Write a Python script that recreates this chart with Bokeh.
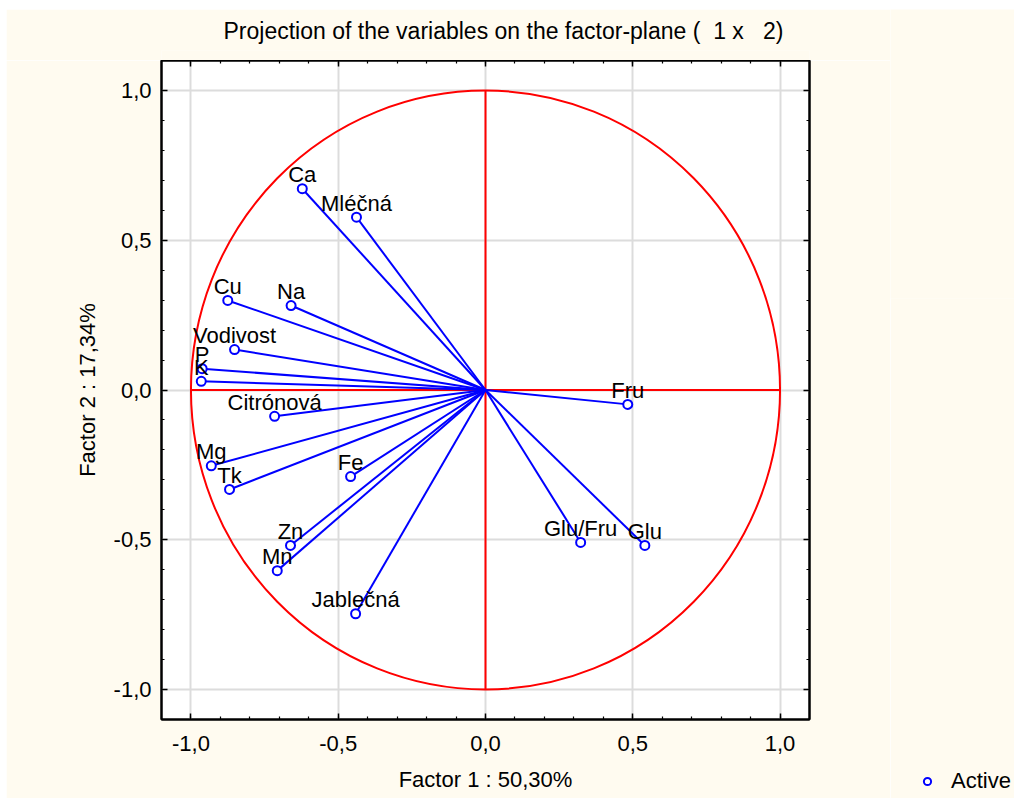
from bokeh.plotting import figure
from bokeh.models import (ColumnDataSource, Range1d, LinearAxis, FixedTicker,
                          CustomJSTickFormatter, Legend, LegendItem, Spacer, Grid)
from bokeh.layouts import column, row
from bokeh.core.properties import value
from bokeh.embed import file_html
from bokeh.resources import INLINE

# ---- data ----
variables = ["Ca", "Mléčná", "Cu", "Na", "Vodivost", "P", "K", "Citrónová", "Mg", "Tk",
             "Fe", "Zn", "Mn", "Jablečná", "Fru", "Glu/Fru", "Glu"]
factor1 = [-0.622, -0.438, -0.875, -0.660, -0.852, -0.962, -0.965, -0.716, -0.931, -0.869,
           -0.458, -0.662, -0.707, -0.441, 0.483, 0.323, 0.541]
factor2 = [0.672, 0.577, 0.299, 0.282, 0.135, 0.071, 0.029, -0.088, -0.253, -0.332,
           -0.289, -0.519, -0.603, -0.747, -0.048, -0.509, -0.519]
origin_x = [0.0] * len(variables)
origin_y = [0.0] * len(variables)

major_ticks = [-1.0, -0.5, 0.0, 0.5, 1.0]
minor_ticks = [-1.0, -0.9, -0.8, -0.7, -0.6, -0.5, -0.4, -0.3, -0.2, -0.1, 0.0,
               0.1, 0.2, 0.3, 0.4, 0.5, 0.6, 0.7, 0.8, 0.9, 1.0]
unit_radius = 1.0

title_text = "Projection of the variables on the factor-plane (\u00a0 1 x \u00a0 2)"
x_label = "Factor 1 : 50,30%"
y_label = "Factor 2 : 17,34%"
legend_label = "Active"

FONT = "Liberation Sans"
CREAM = "#FFFBF0"

# ---- title strip ----
tf = figure(width=884, height=51, output_backend="svg", toolbar_location=None,
            x_axis_location=None, y_axis_location=None,
            min_border_left=155, min_border_right=81, min_border_top=0, min_border_bottom=0,
            background_fill_color=CREAM, border_fill_color=CREAM, outline_line_color=None)
tf.xgrid.visible = False
tf.ygrid.visible = False
tf.title.text = title_text
tf.title.align = "left"
tf.title.offset = 62
tf.title.text_font = FONT
tf.title.text_font_size = "23px"
tf.title.text_font_style = "normal"
tf.title.text_color = "black"
tf.title.standoff = 13

# ---- main plot ----
p = figure(frame_width=648, frame_height=659,
           x_range=Range1d(-1.1, 1.1), y_range=Range1d(-1.1, 1.1),
           output_backend="svg", toolbar_location=None,
           x_axis_location=None, y_axis_location=None,
           min_border_left=155, min_border_right=81,
           min_border_top=0, min_border_bottom=79,
           background_fill_color="white", border_fill_color=CREAM,
           outline_line_color="black", outline_line_width=2)
p.title.text = ""

fmt = CustomJSTickFormatter(code="return tick.toFixed(1).replace('.', ',');")
empty_fmt = CustomJSTickFormatter(code="return '';")


def make_axis(formatter, label=None, standoff=10, label_standoff=10):
    ax = LinearAxis(ticker=FixedTicker(ticks=major_ticks, minor_ticks=minor_ticks),
                    formatter=formatter)
    ax.axis_line_width = 2
    ax.axis_line_color = "black"
    ax.major_tick_in = 6
    ax.major_tick_out = 0
    ax.minor_tick_in = 3
    ax.minor_tick_out = 0
    ax.major_tick_line_width = 1.5
    ax.minor_tick_line_width = 1.2
    ax.major_label_text_font = FONT
    ax.major_label_text_font_size = "22px"
    ax.major_label_text_color = "black"
    ax.major_label_standoff = standoff
    if label:
        ax.axis_label = label
        ax.axis_label_text_font = FONT
        ax.axis_label_text_font_size = "22px"
        ax.axis_label_text_font_style = "normal"
        ax.axis_label_text_color = "black"
        ax.axis_label_standoff = label_standoff
    return ax


p.add_layout(make_axis(fmt, x_label, standoff=16, label_standoff=13), "below")
p.add_layout(make_axis(fmt, y_label, standoff=10, label_standoff=11), "left")
p.add_layout(make_axis(empty_fmt, standoff=0), "above")
p.add_layout(make_axis(empty_fmt, standoff=0), "right")

for dim in (0, 1):
    g = Grid(dimension=dim, ticker=FixedTicker(ticks=major_ticks))
    g.grid_line_color = "#DCDCDC"
    g.grid_line_width = 2
    p.add_layout(g)

# unit circle and red cross
p.ellipse(x=[0.0], y=[0.0], width=[2 * unit_radius], height=[2 * unit_radius],
          fill_color=None, line_color="red", line_width=2)
p.segment(x0=[-unit_radius, 0.0], y0=[0.0, -unit_radius],
          x1=[unit_radius, 0.0], y1=[0.0, unit_radius],
          line_color="red", line_width=2)

src = ColumnDataSource(dict(x=factor1, y=factor2, x0=origin_x, y0=origin_y, name=variables))

p.segment(x0="x0", y0="y0", x1="x", y1="y", source=src, line_color="#0000FF", line_width=2)
p.scatter(x="x", y="y", source=src, marker="circle", size=9,
          fill_color="white", line_color="#0000FF", line_width=2)
p.text(x="x", y="y", text="name", source=src, text_align="center",
       text_baseline="alphabetic", y_offset=-14,
       text_font=value(FONT), text_font_size="22px", text_color="black")

# ---- legend panel (bottom-right corner, outside the plot frame) ----
lg = figure(width=124, height=789, x_range=Range1d(2, 3), y_range=Range1d(2, 3),
            output_backend="svg", toolbar_location=None,
            x_axis_location=None, y_axis_location=None,
            min_border=0, background_fill_color=CREAM, border_fill_color=CREAM,
            outline_line_color=None)
lg.xgrid.visible = False
lg.ygrid.visible = False
proxy = lg.scatter(x="x", y="y", source=src, marker="circle", size=9,
                   fill_color="white", line_color="#0000FF", line_width=2)
legend = Legend(items=[LegendItem(label=legend_label, renderers=[proxy])],
                location=(28, 4))
legend.border_line_color = None
legend.background_fill_alpha = 0
legend.padding = 0
legend.margin = 0
legend.spacing = 0
legend.glyph_width = 18
legend.glyph_height = 18
legend.label_standoff = 15
legend.label_text_font = FONT
legend.label_text_font_size = "22px"
legend.label_text_color = "black"
lg.add_layout(legend, "below")

layout = column(Spacer(height=9), row(Spacer(width=6), column(tf, p), lg))
open("out.html", "w").write(file_html(layout, INLINE))
